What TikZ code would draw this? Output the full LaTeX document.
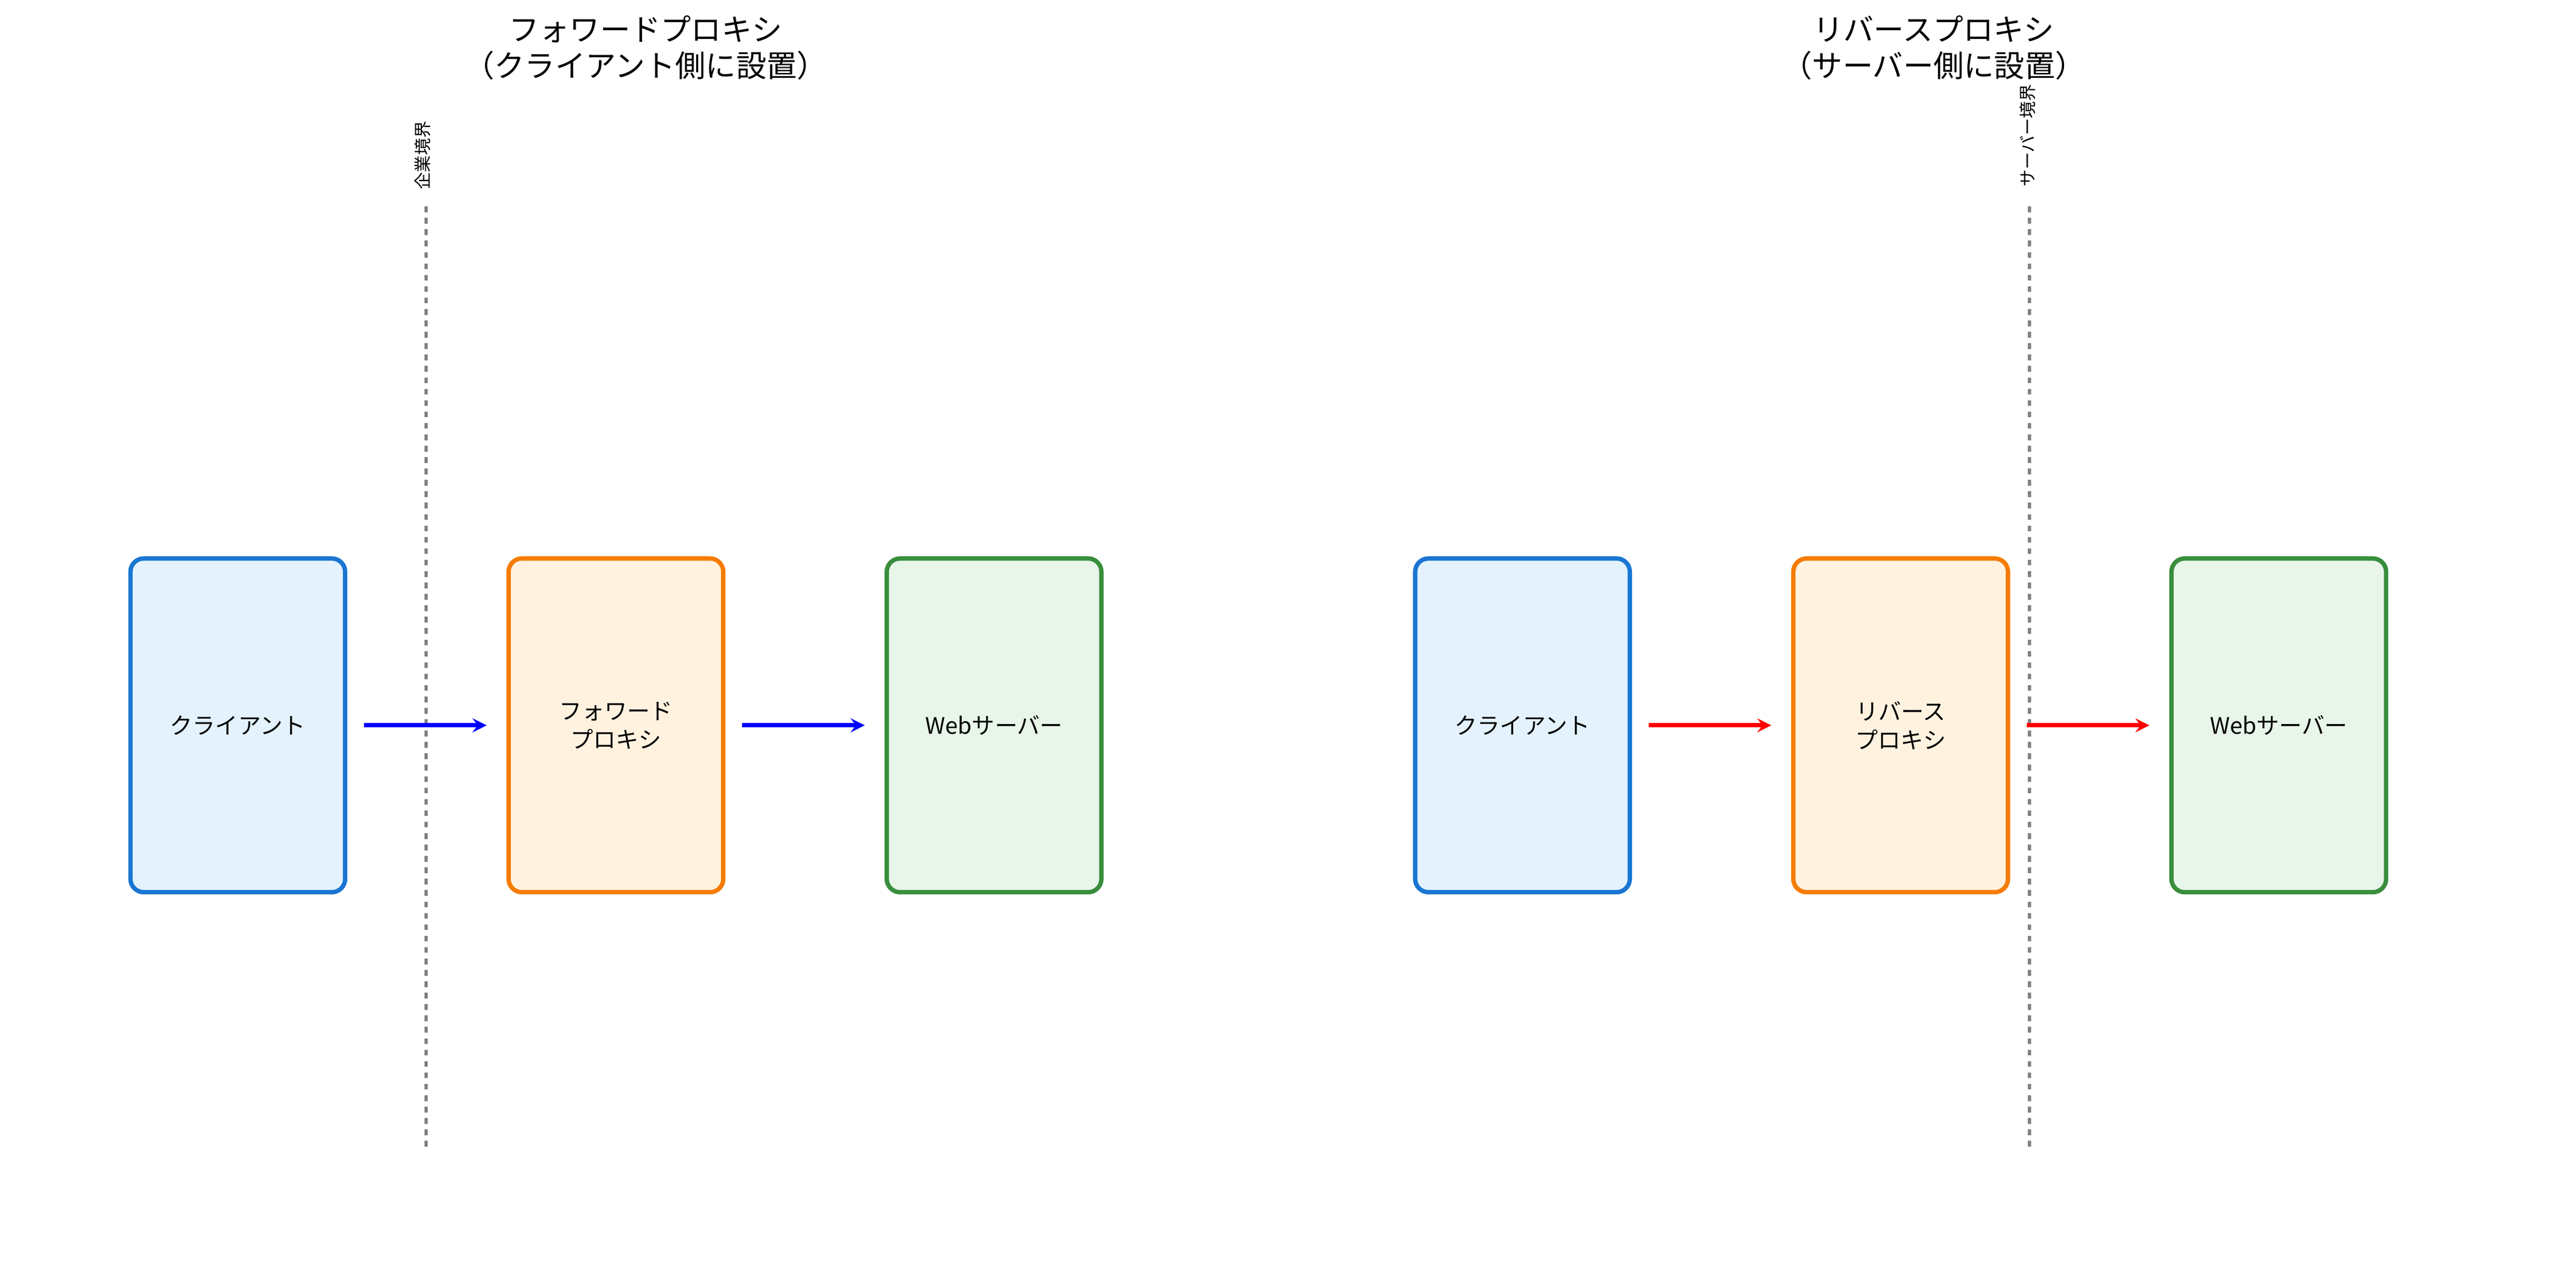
\documentclass[tikz,border=0pt]{standalone}
\usepackage{fontspec}
\setmainfont{Noto Sans CJK JP}
\begin{document}
\begin{tikzpicture}[x=0.03058cm,y=-0.03058cm,
  box/.style={draw,line width=2.3pt,rounded corners=7pt,minimum width=130*0.03058cm,minimum height=202*0.03058cm,align=center,font=\fontsize{12}{15}\selectfont},
  cl/.style={box,draw={rgb,255:red,25;green,118;blue,210},fill={rgb,255:red,227;green,242;blue,253}},
  px/.style={box,draw={rgb,255:red,245;green,124;blue,0},fill={rgb,255:red,255;green,243;blue,224}},
  ws/.style={box,draw={rgb,255:red,56;green,142;blue,60},fill={rgb,255:red,232;green,245;blue,233}},
  arr/.style={line width=2.2pt,-stealth},
  bd/.style={dashed,gray,line width=1.7pt},
  ttl/.style={align=center,font=\fontsize{16}{19}\selectfont},
  vl/.style={rotate=90,font=\fontsize{9}{11}\selectfont}]
\useasboundingbox (0,0) rectangle (1560,774);
\node[ttl] (t1) at (391,29) {フォワードプロキシ\\（クライアント側に設置）};
\node[ttl] (t2) at (1171,29) {リバースプロキシ\\（サーバー側に設置）};
\coordinate (d1a) at (258,125); \coordinate (d1b) at (258,695);
\coordinate (d2a) at (1229,125); \coordinate (d2b) at (1229,695);
\draw[bd] (d1a) -- (d1b); \draw[bd] (d2a) -- (d2b);
\node[vl] (v1) at (256,94) {企業境界};
\node[vl] (v2) at (1228,82) {サーバー境界};
\node[cl] (c1) at (144,439) {クライアント};
\node[px] (p1) at (373,439) {フォワード\\プロキシ};
\node[ws] (w1) at (602,439) {Webサーバー};
\node[cl] (c2) at (922,439) {クライアント};
\node[px] (p2) at (1151,439) {リバース\\プロキシ};
\node[ws] (w2) at (1380,439) {Webサーバー};
\draw[arr,blue] ([xshift=10*0.03058cm]c1.east) -- ([xshift=-12*0.03058cm]p1.west);
\draw[arr,blue] ([xshift=10*0.03058cm]p1.east) -- ([xshift=-12*0.03058cm]w1.west);
\draw[arr,red] ([xshift=10*0.03058cm]c2.east) -- ([xshift=-12*0.03058cm]p2.west);
\draw[arr,red] ([xshift=10*0.03058cm]p2.east) -- ([xshift=-12*0.03058cm]w2.west);
\end{tikzpicture}
\end{document}
